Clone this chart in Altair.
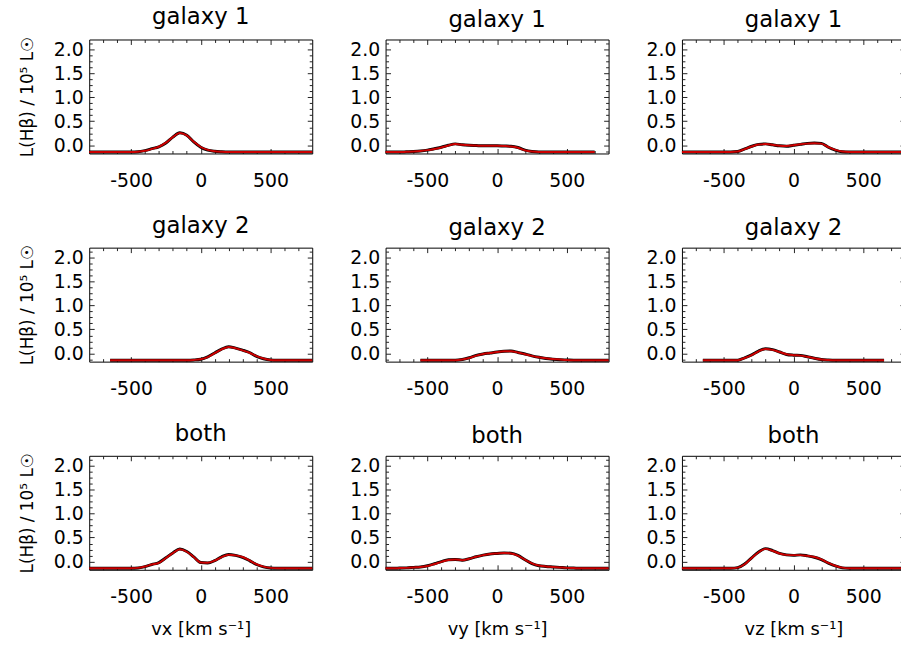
import altair as alt
import pandas as pd

# Velocity grid (km/s) shared by every profile
vel = list(range(-800, 801, 50))

# Hβ line profiles in units of 1e5 Lsun (total = black, fit = red); None = outside the sampled range
g1_vx_tot = [-0.14] * 7 + [-0.135, -0.11, -0.07, -0.03, 0.05, 0.17, 0.26, 0.21, 0.07, -0.04, -0.10, -0.125, -0.135] + [-0.14] * 13
g1_vx_fit = [-0.14] * 7 + [-0.135, -0.115, -0.075, -0.03, 0.055, 0.17, 0.255, 0.205, 0.075, -0.035, -0.095, -0.125, -0.135] + [-0.14] * 13

g1_vy_tot = [-0.14, -0.14, -0.14, -0.135, -0.13, -0.12, -0.10, -0.07, -0.04, 0.0, 0.03, 0.01, 0.0, -0.005, -0.01, -0.01, -0.01, -0.015, -0.02, -0.045, -0.10, -0.13, -0.14] + [-0.14] * 8 + [None, None]
g1_vy_fit = [-0.14, -0.14, -0.14, -0.135, -0.13, -0.12, -0.10, -0.075, -0.045, -0.005, 0.025, 0.01, 0.0, -0.005, -0.01, -0.01, -0.01, -0.015, -0.025, -0.05, -0.105, -0.13, -0.14] + [-0.14] * 8 + [None, None]

g1_vz_tot = [-0.14] * 8 + [-0.13, -0.075, -0.02, 0.02, 0.03, 0.01, -0.01, -0.02, 0.0, 0.02, 0.04, 0.05, 0.04, -0.04, -0.10, -0.135] + [-0.14] * 9
g1_vz_fit = [-0.14] * 8 + [-0.13, -0.08, -0.025, 0.015, 0.025, 0.01, -0.01, -0.015, 0.0, 0.02, 0.035, 0.045, 0.035, -0.035, -0.095, -0.13] + [-0.14] * 9

g2_vx_tot = [None] * 3 + [-0.14] * 12 + [-0.135, -0.12, -0.07, 0.01, 0.09, 0.14, 0.11, 0.07, 0.02, -0.06, -0.11, -0.135] + [-0.14] * 6
g2_vx_fit = [None] * 3 + [-0.14] * 12 + [-0.135, -0.12, -0.075, 0.005, 0.085, 0.135, 0.11, 0.065, 0.015, -0.055, -0.105, -0.135] + [-0.14] * 6

g2_vy_tot = [None] * 5 + [-0.14] * 6 + [-0.125, -0.09, -0.04, -0.01, 0.01, 0.03, 0.045, 0.05, 0.02, -0.01, -0.05, -0.08, -0.105, -0.12, -0.13, -0.135] + [-0.14] * 6
g2_vy_fit = [None] * 5 + [-0.14] * 6 + [-0.125, -0.095, -0.045, -0.01, 0.01, 0.03, 0.045, 0.045, 0.02, -0.015, -0.05, -0.08, -0.10, -0.115, -0.125, -0.135] + [-0.14] * 6

g2_vz_tot = [None] * 3 + [-0.14] * 6 + [-0.09, -0.03, 0.05, 0.10, 0.08, 0.03, -0.02, -0.035, -0.04, -0.07, -0.10, -0.125, -0.135] + [-0.14] * 8 + [None] * 3
g2_vz_fit = [None] * 3 + [-0.14] * 6 + [-0.095, -0.035, 0.045, 0.095, 0.075, 0.03, -0.015, -0.035, -0.045, -0.07, -0.10, -0.125, -0.135] + [-0.14] * 8 + [None] * 3

both_vx_tot = [-0.14] * 7 + [-0.135, -0.105, -0.06, -0.02, 0.08, 0.18, 0.26, 0.21, 0.10, -0.02, -0.03, 0.02, 0.10, 0.15, 0.13, 0.09, 0.02, -0.06, -0.11, -0.135] + [-0.14] * 6
both_vx_fit = [-0.14] * 7 + [-0.13, -0.10, -0.06, -0.025, 0.075, 0.175, 0.255, 0.205, 0.095, -0.02, -0.025, 0.02, 0.095, 0.145, 0.13, 0.095, 0.025, -0.055, -0.105, -0.13] + [-0.14] * 6

both_vy_tot = [-0.14, -0.14, -0.135, -0.13, -0.12, -0.11, -0.085, -0.045, 0.0, 0.04, 0.045, 0.03, 0.06, 0.10, 0.135, 0.16, 0.17, 0.18, 0.175, 0.13, 0.04, -0.04, -0.085, -0.10, -0.11, -0.12, -0.13, -0.135] + [-0.14] * 5
both_vy_fit = [-0.14, -0.14, -0.135, -0.13, -0.12, -0.11, -0.09, -0.05, -0.005, 0.035, 0.045, 0.03, 0.06, 0.10, 0.135, 0.16, 0.17, 0.18, 0.17, 0.125, 0.04, -0.035, -0.08, -0.10, -0.11, -0.12, -0.13, -0.135] + [-0.14] * 5

both_vz_tot = [-0.14] * 8 + [-0.125, -0.05, 0.08, 0.20, 0.27, 0.23, 0.17, 0.14, 0.13, 0.14, 0.12, 0.09, 0.04, -0.03, -0.09, -0.13] + [-0.14] * 9
both_vz_fit = [-0.14] * 8 + [-0.125, -0.055, 0.075, 0.195, 0.265, 0.225, 0.17, 0.14, 0.135, 0.135, 0.12, 0.095, 0.045, -0.025, -0.085, -0.125] + [-0.14] * 9

row_titles = ["galaxy 1", "galaxy 2", "both"]
components = ["vx", "vy", "vz"]
profiles = [
    [(g1_vx_tot, g1_vx_fit), (g1_vy_tot, g1_vy_fit), (g1_vz_tot, g1_vz_fit)],
    [(g2_vx_tot, g2_vx_fit), (g2_vy_tot, g2_vy_fit), (g2_vz_tot, g2_vz_fit)],
    [(both_vx_tot, both_vx_fit), (both_vy_tot, both_vy_fit), (both_vz_tot, both_vz_fit)],
]

X_DOMAIN = [-800, 800]
Y_DOMAIN = [-0.17, 2.2]
X_MAJOR = [-500, 0, 500]
X_MINOR = [v for v in range(-700, 701, 100) if v % 500 != 0]
Y_MAJOR = [0.0, 0.5, 1.0, 1.5, 2.0]
Y_MINOR = [k * 0.125 for k in range(-1, 18) if k % 4 != 0]

FONT = "DejaVu Sans"
W, H = 225, 115
MAJ, MIN = 5, 3
YTITLE = "L(Hβ) / 10⁵ L☉"


def inner_ticks(orient, values, size):
    # ticks drawn inward: axis line pulled inside the frame by the tick length
    return alt.Axis(orient=orient, values=values, offset=-size, tickSize=size,
                    labels=False, domain=False, grid=False, title=None,
                    tickColor="#222222", tickWidth=1)


def panel(r, c):
    tot, fit = profiles[r][c]
    df = pd.DataFrame({"v": vel, "tot": tot, "fit": fit})
    xs = alt.Scale(domain=X_DOMAIN, nice=False, zero=False)
    ys = alt.Scale(domain=Y_DOMAIN, nice=False, zero=False)

    x_label_axis = alt.Axis(
        orient="bottom", values=X_MAJOR, ticks=False, tickSize=0, domain=False, grid=False,
        labelPadding=18, labelFont=FONT, labelFontSize=19, labelColor="black",
        labelExpr="'' + datum.value", labelFlush=False, labelOverlap=False,
        title=(f"{components[c]} [km s⁻¹]" if r == 2 else None),
        titleFont=FONT, titleFontSize=18, titleFontWeight="normal", titleColor="black",
        titlePadding=14,
    )
    y_label_axis = alt.Axis(
        orient="left", values=Y_MAJOR, ticks=False, tickSize=0, domain=False, grid=False,
        labelPadding=6, labelFont=FONT, labelFontSize=19, labelColor="black",
        labelExpr="format(datum.value, '.1f')", labelFlush=False, labelOverlap=False,
        title=(YTITLE if c == 0 else None),
        titleFont=FONT, titleFontSize=17, titleFontWeight="normal", titleColor="black",
        titlePadding=17,
    )

    base = alt.Chart(df)
    total = base.mark_line(color="black", strokeWidth=3, interpolate="monotone").encode(
        x=alt.X("v:Q", scale=xs, axis=x_label_axis),
        y=alt.Y("tot:Q", scale=ys, axis=y_label_axis),
    )
    model = base.mark_line(color="#cc0000", strokeWidth=2, interpolate="monotone").encode(
        x=alt.X("v:Q", scale=xs, axis=inner_ticks("bottom", X_MAJOR, MAJ)),
        y=alt.Y("fit:Q", scale=ys, axis=inner_ticks("left", Y_MAJOR, MAJ)),
    )
    guides = []
    for xo, yo, xv, yv, sz in [
        ("bottom", "left", X_MINOR, Y_MINOR, MIN),
        ("top", "right", X_MAJOR, Y_MAJOR, MAJ),
        ("top", "right", X_MINOR, Y_MINOR, MIN),
    ]:
        guides.append(
            base.mark_line(opacity=0).encode(
                x=alt.X("v:Q", scale=xs, axis=inner_ticks(xo, xv, sz)),
                y=alt.Y("tot:Q", scale=ys, axis=inner_ticks(yo, yv, sz)),
            )
        )
    return (
        alt.layer(*guides, total, model)
        .resolve_axis(x="independent", y="independent")
        .properties(
            width=W, height=H,
            title=alt.TitleParams(row_titles[r], font=FONT, fontSize=23, fontWeight="normal",
                                  color="black", anchor="middle", offset=7, frame="group"),
        )
    )


# 3x3 grid; flush bounds so spacing is measured between plot frames.
# The right-hand column runs past the page edge and is trimmed there.
chart = (
    alt.concat(*[panel(r, c) for r in range(3) for c in range(3)],
               columns=3, spacing={"row": 95, "column": 74}, bounds="flush")
    .properties(
        padding={"left": 18, "top": 3, "right": -11, "bottom": 0},
        background="white",
    )
    .configure_view(stroke="black", strokeWidth=1)
)

chart.save("out.html", embed_options={"renderer": "svg", "actions": False})
